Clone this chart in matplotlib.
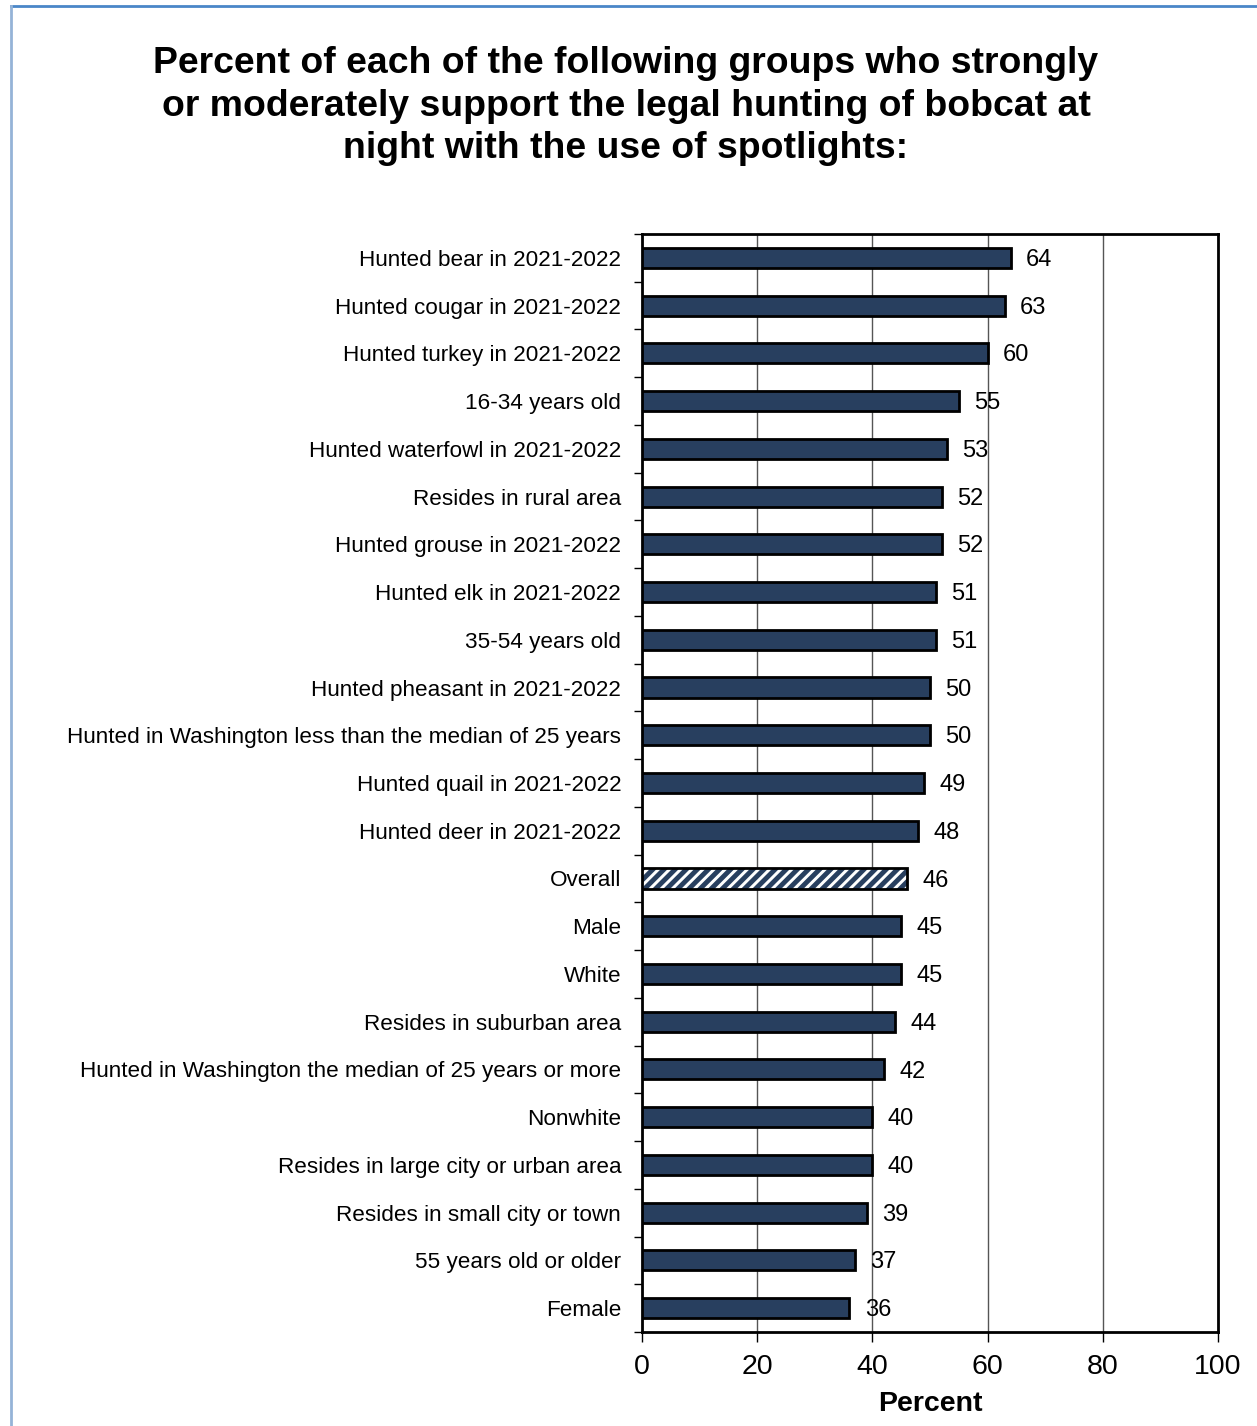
import matplotlib
matplotlib.use('Agg')
import matplotlib.pyplot as plt
from matplotlib.lines import Line2D

plt.rcParams['font.family'] = ['Liberation Sans', 'DejaVu Sans']
plt.rcParams['hatch.linewidth'] = 3.5

# groups, top to bottom
groups = [
    'Hunted bear in 2021-2022',
    'Hunted cougar in 2021-2022',
    'Hunted turkey in 2021-2022',
    '16-34 years old',
    'Hunted waterfowl in 2021-2022',
    'Resides in rural area',
    'Hunted grouse in 2021-2022',
    'Hunted elk in 2021-2022',
    '35-54 years old',
    'Hunted pheasant in 2021-2022',
    'Hunted in Washington less than the median of 25 years',
    'Hunted quail in 2021-2022',
    'Hunted deer in 2021-2022',
    'Overall',
    'Male',
    'White',
    'Resides in suburban area',
    'Hunted in Washington the median of 25 years or more',
    'Nonwhite',
    'Resides in large city or urban area',
    'Resides in small city or town',
    '55 years old or older',
    'Female',
]
percent = [64, 63, 60, 55, 53, 52, 52, 51, 51, 50, 50, 49, 48,
           46, 45, 45, 44, 42, 40, 40, 39, 37, 36]
highlight = 'Overall'

navy = '#283F5F'

fig = plt.figure(figsize=(12.57, 14.26), dpi=100)
ax = fig.add_axes([642/1257, 1 - 1332/1426, 576/1257, 1098/1426])

y = list(range(len(groups)))
for yi, g, v in zip(y, groups, percent):
    if g == highlight:
        ax.barh(yi, v, height=0.42, color='white', edgecolor=navy,
                hatch='///', linewidth=0, zorder=3)
        ax.barh(yi, v, height=0.42, fill=False, edgecolor='black',
                linewidth=2, zorder=4)
    else:
        ax.barh(yi, v, height=0.42, color=navy, edgecolor='black',
                linewidth=2, zorder=3)
    ax.annotate(str(v), (v, yi), xytext=(11, -1.5), textcoords='offset points',
                va='center', ha='left', fontsize=17, zorder=5)

ax.set_xlim(0, 100)
ax.set_ylim(len(groups) - 0.5, -0.5)
ax.set_xticks([0, 20, 40, 60, 80, 100])
ax.tick_params(axis='x', labelsize=20.5, direction='out', length=7, width=1,
               pad=9)
ax.set_yticks(y)
ax.set_yticklabels(groups, fontsize=16.2)
ax.tick_params(axis='y', length=0, pad=15)
# small marks between the categories
ax.set_yticks([i + 0.5 for i in range(-1, len(groups))], minor=True)
ax.tick_params(axis='y', which='minor', direction='out', length=6, width=1)
ax.xaxis.grid(True, color='#555555', linewidth=1)
ax.set_axisbelow(True)
for s in ax.spines.values():
    s.set_linewidth(2)
ax.set_xlabel('Percent', fontsize=20.5, fontweight='bold', labelpad=8)

fig.text(626/1257, 1 - 106/1426,
         'Percent of each of the following groups who strongly\n'
         'or moderately support the legal hunting of bobcat at\n'
         'night with the use of spotlights:',
         ha='center', va='center', fontsize=26.9, fontweight='bold',
         linespacing=1.28)

# outer frame lines
fig.add_artist(Line2D([11/1257, 1.0], [1 - 6/1426, 1 - 6/1426],
                      transform=fig.transFigure, color='#4A86C8', linewidth=2))
fig.add_artist(Line2D([11/1257, 11/1257], [0, 1 - 6/1426],
                      transform=fig.transFigure, color='#95B3D7', linewidth=2))

fig.savefig('out.png', dpi=100)
